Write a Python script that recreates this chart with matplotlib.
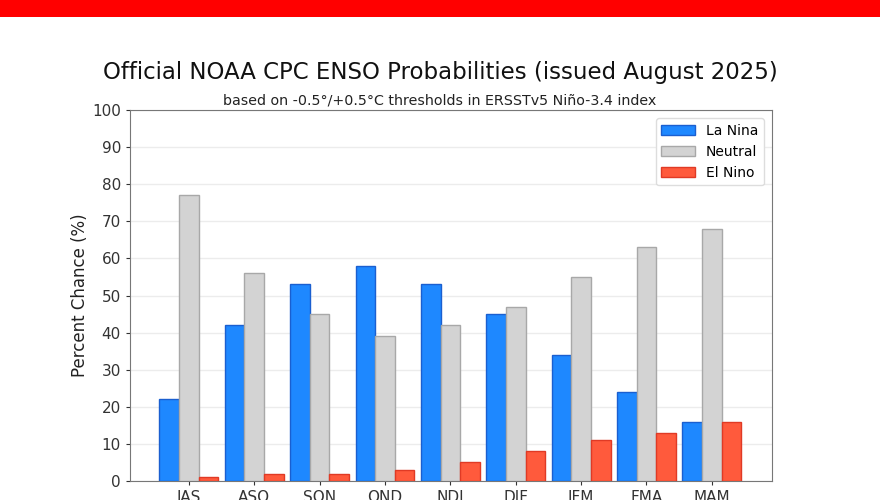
import matplotlib
matplotlib.use("Agg")
import matplotlib.pyplot as plt
import numpy as np
from matplotlib.patches import Rectangle

# Seasons and probabilities (%)
seasons = ["JAS", "ASO", "SON", "OND", "NDJ", "DJF", "JFM", "FMA", "MAM"]
la_nina = [22, 42, 53, 58, 53, 45, 34, 24, 16]
neutral = [77, 56, 45, 39, 42, 47, 55, 63, 68]
el_nino = [1, 2, 2, 3, 5, 8, 11, 13, 16]

plt.rcParams['font.family'] = ['DejaVu Sans']

fig = plt.figure(figsize=(8.8, 5), dpi=100)
fig.patch.set_facecolor('white')

# red banner across the top
fig.patches.append(Rectangle((0, 1 - 17 / 500), 1, 17 / 500, transform=fig.transFigure,
                             facecolor='#ff0000', edgecolor='none', zorder=5))

ax = fig.add_axes([130 / 880, 1 - 481 / 500, 642 / 880, 371 / 500])

x = np.arange(len(seasons))
w = 0.3
ax.bar(x - w, la_nina, w, color='#1e88ff', edgecolor='#1a5fd0', linewidth=1, label='La Nina', zorder=3)
ax.bar(x, neutral, w, color='#d3d3d3', edgecolor='#a8a8a8', linewidth=1, label='Neutral', zorder=3)
ax.bar(x + w, el_nino, w, color='#ff5a3c', edgecolor='#e03a25', linewidth=1, label='El Nino', zorder=3)

ax.set_xlim(-0.9, 8.92)
ax.set_ylim(0, 100)
ax.set_yticks(range(0, 101, 10))
ax.set_xticks(x)
ax.set_xticklabels(seasons)
ax.tick_params(labelsize=11, colors='#333333', length=3)
ax.grid(axis='y', color='#ececec', linewidth=1, zorder=0)
for s in ax.spines.values():
    s.set_color('#777777')

ax.set_ylabel("Percent Chance (%)", fontsize=12, color='#222222', labelpad=2)
ax.legend(loc='upper right', fontsize=10, framealpha=1, edgecolor='#dddddd',
          handlelength=2.4, borderaxespad=0.6)

fig.text(0.5, 1 - 72 / 500, "Official NOAA CPC ENSO Probabilities (issued August 2025)",
         ha='center', va='center', fontsize=16.5, color='#111111')
fig.text(0.5, 1 - 100 / 500, "based on -0.5\u00b0/+0.5\u00b0C thresholds in ERSSTv5 Ni\u00f1o-3.4 index",
         ha='center', va='center', fontsize=10.3, color='#222222')

fig.savefig("out.png", dpi=100)
